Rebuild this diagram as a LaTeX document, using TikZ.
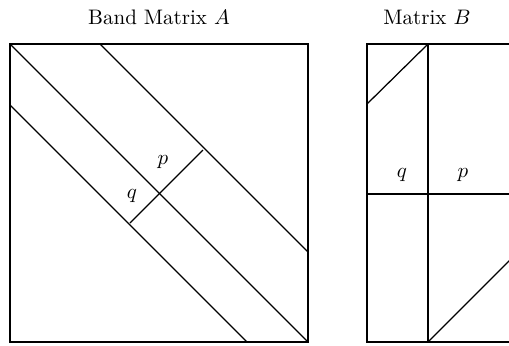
\documentclass[tikz,border=0pt]{standalone}
\begin{document}
\begin{tikzpicture}[x=0.476pt,y=-0.476pt,line width=0.6pt,
  lbl/.style={inner sep=0pt,font=\normalsize}]
\useasboundingbox (0,0) rectangle (509,345);
\clip (0,0) rectangle (509,345);
% Band matrix A
\node[lbl] (ta) at (159,17) {Band Matrix $A$};
\coordinate (a1) at (10,44);
\coordinate (a2) at (308,342);
\draw (a1) rectangle (a2);
\draw (a1) -- (a2);
\coordinate (u1) at (100,44);
\coordinate (u2) at (308,252);
\draw (u1) -- (u2);
\coordinate (l1) at (10,105);
\coordinate (l2) at (247,342);
\draw (l1) -- (l2);
\coordinate (c1) at (130,223);
\coordinate (c2) at (203,150);
\draw (c1) -- (c2);
\node[lbl] (pa) at (163,162) {$p$};
\node[lbl] (qa) at (132,196) {$q$};
% Matrix B
\node[lbl] (tb) at (427,17) {Matrix $B$};
\draw (520,44) -- (367,44) -- (367,342) -- (520,342);
\draw (428,44) -- (428,342);
\draw (367,194) -- (520,194);
\draw (367,104) -- (428,44);
\draw (428,342) -- (528,242);
\node[lbl] (qb) at (402,175) {$q$};
\node[lbl] (pb) at (463,175) {$p$};
\end{tikzpicture}
\end{document}
